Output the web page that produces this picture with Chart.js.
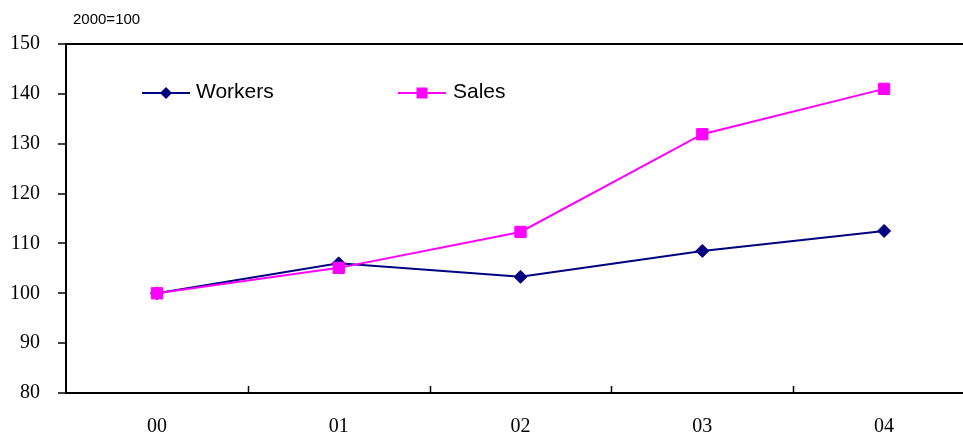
<!DOCTYPE html>
<html><head><meta charset="utf-8">
<script src="https://cdn.jsdelivr.net/npm/chart.js@4"></script>
<style>html,body{margin:0;padding:0;background:#fff;overflow:hidden}
#wrap{position:relative;width:1000px;height:435px}
</style></head><body>
<div id="wrap"><canvas id="c" width="1000" height="435"></canvas></div>
<script>
const categories = ['00', '01', '02', '03', '04'];
const workers = [100, 106.0, 103.3, 108.5, 112.5];
const sales = [100, 105.1, 112.3, 131.9, 141.0];
const seriesNames = ['Workers', 'Sales'];
const yMin = 80, yMax = 150, yStep = 10;
const unitLabel = '2000=100';

const NAVY = '#000080', MAGENTA = '#FF00FF';

const extras = {
  id: 'extras',
  afterDraw(chart) {
    const ctx = chart.ctx, x = chart.scales.x, ca = chart.chartArea;
    ctx.save();
    // inward x tick marks between categories
    ctx.strokeStyle = '#000'; ctx.lineWidth = 1.5;
    for (let i = 1; i <= categories.length; i++) {
      const px = i < categories.length ? (x.getPixelForValue(i - 1) + x.getPixelForValue(i)) / 2 : ca.right;
      ctx.beginPath(); ctx.moveTo(Math.round(px) + 0.5, ca.bottom); ctx.lineTo(Math.round(px) + 0.5, ca.bottom - 7); ctx.stroke();
    }
    // unit label
    ctx.fillStyle = '#000';
    ctx.font = '15px "Liberation Sans", Arial, sans-serif';
    ctx.textAlign = 'left'; ctx.textBaseline = 'alphabetic';
    ctx.fillText(unitLabel, 73, 24);
    // legend inside plot
    const items = [{x0: 142, x1: 190, tx: 196}, {x0: 398, x1: 446, tx: 453}];
    const ly = 93;
    chart.data.datasets.forEach((ds, i) => {
      const it = items[i];
      ctx.strokeStyle = ds.borderColor; ctx.lineWidth = 2;
      ctx.beginPath(); ctx.moveTo(it.x0, ly); ctx.lineTo(it.x1, ly); ctx.stroke();
      const cx = (it.x0 + it.x1) / 2;
      ctx.fillStyle = ds.pointBackgroundColor;
      ctx.beginPath();
      if (ds.pointStyle === 'rectRot') {
        const r = 6;
        ctx.moveTo(cx - r, ly); ctx.lineTo(cx, ly - r); ctx.lineTo(cx + r, ly); ctx.lineTo(cx, ly + r); ctx.closePath();
      } else {
        ctx.rect(cx - 5.5, ly - 5.5, 11, 11);
      }
      ctx.fill();
      ctx.fillStyle = '#000';
      ctx.font = '21px "Liberation Sans", Arial, sans-serif';
      ctx.textBaseline = 'alphabetic';
      ctx.fillText(ds.label, it.tx, 98);
    });
    ctx.restore();
  }
};

new Chart(document.getElementById('c'), {
  type: 'line',
  data: {
    labels: categories,
    datasets: [
      {label: seriesNames[0], data: workers, borderColor: NAVY, backgroundColor: NAVY,
       pointBackgroundColor: NAVY, pointBorderColor: NAVY, pointStyle: 'rectRot',
       pointRadius: 6.5, pointBorderWidth: 1, borderWidth: 2, tension: 0, order: 1},
      {label: seriesNames[1], data: sales, borderColor: MAGENTA, backgroundColor: MAGENTA,
       pointBackgroundColor: MAGENTA, pointBorderColor: MAGENTA, pointStyle: 'rect',
       pointRadius: 8, pointBorderWidth: 1, borderWidth: 2, tension: 0, order: 0}
    ]
  },
  options: {
    responsive: false,
    animation: false,
    devicePixelRatio: 1,
    layout: {padding: {top: 44, right: 25, left: 0, bottom: 0}},
    plugins: {legend: {display: false}, tooltip: {enabled: false}},
    scales: {
      x: {
        offset: true,
        grid: {display: false},
        border: {display: true, color: '#000', width: 2},
        ticks: {color: '#000', padding: 14, maxRotation: 0,
                font: {family: '"Liberation Serif", "Times New Roman", serif', size: 20}},
        afterFit(s) { s.height = 42; }
      },
      y: {
        min: yMin, max: yMax,
        grid: {
          color: c => (c.tick && c.tick.value === yMax) ? '#000' : 'rgba(0,0,0,0)',
          tickColor: '#000', lineWidth: 2, tickWidth: 1.5, tickLength: 8, drawTicks: true
        },
        border: {display: true, color: '#000', width: 2},
        ticks: {stepSize: yStep, color: '#000', padding: 18,
                font: {family: '"Liberation Serif", "Times New Roman", serif', size: 20}},
        afterFit(s) { s.width = 66; }
      }
    }
  },
  plugins: [extras]
});
</script>
</body></html>
